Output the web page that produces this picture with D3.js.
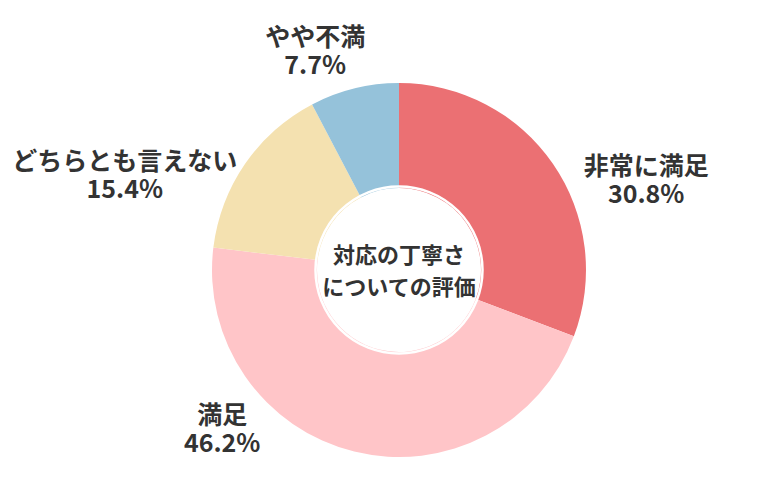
<!DOCTYPE html>
<html>
<head>
<meta charset="utf-8">
<script src="https://cdn.jsdelivr.net/npm/d3@7"></script>
<style>
  body { margin: 0; background: #fff; }
  text { font-family: "Noto Sans CJK JP", "Noto Sans", sans-serif; font-weight: 700; fill: #333; }
</style>
</head>
<body>
<div id="chart"></div>
<script>
const width = 780;
const height = 500;

const categories = ['非常に満足', '満足', 'どちらとも言えない', 'やや不満'];
const shares = [30.8, 46.2, 15.4, 7.7];
const percentLabels = ['30.8%', '46.2%', '15.4%', '7.7%'];
const centerLines = ['対応の丁寧さ', 'についての評価'];

const colors = ['#eb7073', '#ffc5c8', '#f4e1b0', '#95c2da'];
// label placement: angle (deg, clockwise from top) and distance from centre
const labelLayout = [
    {angle: 70, r: 263},
    {angle: 228, r: 238},
    {angle: 289, r: 290},
    {angle: 339, r: 234}
];

const cx = 399, cy = 270;
const outerR = 187, innerR = 82;

const svg = d3.select('#chart')
    .append('svg')
    .attr('width', width)
    .attr('height', height);

const g = svg.append('g')
    .attr('transform', `translate(${cx},${cy})`);

const pie = d3.pie().sort(null).value(d => d);
const arcs = pie(shares);
const arc = d3.arc().innerRadius(innerR).outerRadius(outerR);

g.selectAll('path.slice')
    .data(arcs)
    .enter().append('path')
    .attr('class', 'slice')
    .attr('d', arc)
    .attr('fill', (d, i) => colors[i]);

// white band leaves a thin coloured ring around the hole
g.append('circle')
    .attr('r', innerR - 1.5)
    .attr('fill', '#fff');
g.append('circle')
    .attr('r', innerR + 1.5)
    .attr('fill', 'none')
    .attr('stroke', '#fff')
    .attr('stroke-width', 2.5);

g.selectAll('text.center')
    .data(centerLines)
    .enter().append('text')
    .attr('class', 'center')
    .attr('text-anchor', 'middle')
    .attr('y', (d, i) => -15 + i * 32)
    .attr('dy', '0.35em')
    .attr('font-size', 22)
    .text(d => d);

const labels = g.selectAll('g.label')
    .data(arcs)
    .enter().append('g')
    .attr('class', 'label')
    .attr('transform', (d, i) => {
        const p = d3.pointRadial(labelLayout[i].angle * Math.PI / 180, labelLayout[i].r);
        return `translate(${p[0]},${p[1]})`;
    });

labels.append('text')
    .attr('text-anchor', 'middle')
    .attr('y', -14)
    .attr('dy', '0.35em')
    .attr('font-size', 25)
    .text((d, i) => categories[i]);

labels.append('text')
    .attr('text-anchor', 'middle')
    .attr('y', 14)
    .attr('dy', '0.35em')
    .attr('font-size', 25)
    .text((d, i) => percentLabels[i]);
</script>
</body>
</html>
